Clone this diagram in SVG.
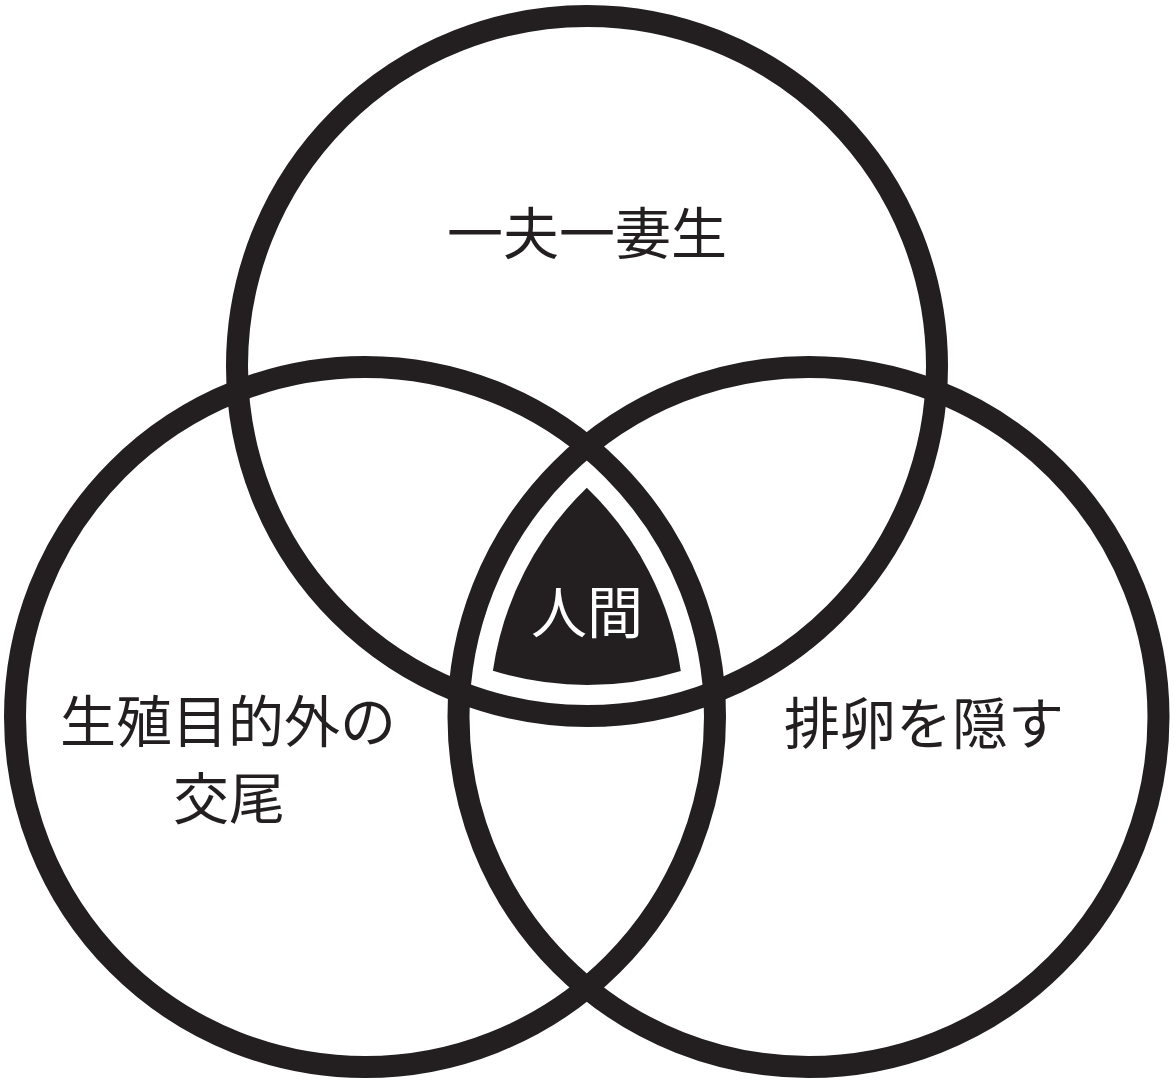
<svg xmlns="http://www.w3.org/2000/svg" width="1174" height="1085" viewBox="0 0 1174 1085">
<style>
.ring{fill:none;stroke:#231f20;stroke-width:22}
.lbl{font-family:"Noto Sans CJK JP","Noto Sans CJK SC",sans-serif;font-size:56px;fill:#231f20;text-anchor:middle}
.core{fill:#231f20}
.coretext{font-family:"Noto Sans CJK JP","Noto Sans CJK SC",sans-serif;font-size:56px;fill:#ffffff;text-anchor:middle}
</style>
<rect width="1174" height="1085" fill="#ffffff"/>
<g id="connectors"></g>
<g id="node-top">
<circle class="ring" cx="587" cy="366" r="350"/>
<text class="lbl" x="587" y="254">一夫一妻生</text>
</g>
<g id="node-left">
<circle class="ring" cx="365" cy="717" r="350"/>
<text class="lbl" x="228" y="742">生殖目的外の</text>
<text class="lbl" x="229" y="819">交尾</text>
</g>
<g id="node-right">
<circle class="ring" cx="808.5" cy="717" r="350"/>
<text class="lbl" x="924" y="744">排卵を隠す</text>
</g>
<g id="node-center">
<path class="core" d="M586.8,487.7 A319,319 0 0 0 492.9,670.8 A319,319 0 0 0 680.8,670.9 A319,319 0 0 0 586.8,487.7 Z"/>
<text class="coretext" x="587" y="633">人間</text>
</g>
</svg>
